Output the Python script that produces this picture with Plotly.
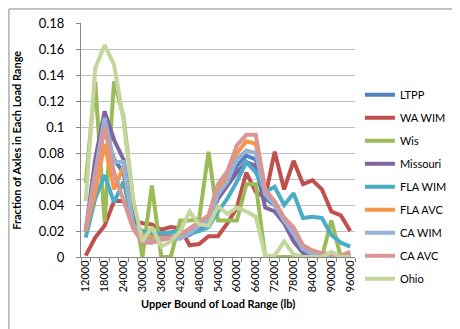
import plotly.graph_objects as go

# upper bound of each load range (lb)
load_bounds = list(range(12000, 96001, 3000))
tick_labels = list(range(12000, 96001, 6000))

ltpp = [0.020, 0.060, 0.100, 0.075, 0.065, 0.027, 0.015, 0.014, 0.015, 0.015,
        0.016, 0.019, 0.023, 0.028, 0.045, 0.056, 0.070, 0.078, 0.075, 0.045,
        0.040, 0.028, 0.018, 0.006, 0.003, 0.002, 0.001, 0.001, 0.002]
wa_wim = [0.001, 0.015, 0.024, 0.043, 0.043, 0.028, 0.026, 0.025, 0.021, 0.023,
          0.022, 0.009, 0.010, 0.016, 0.016, 0.026, 0.038, 0.065, 0.050, 0.046,
          0.081, 0.052, 0.074, 0.056, 0.059, 0.052, 0.035, 0.032, 0.020]
wis = [0.057, 0.135, 0.027, 0.135, 0.108, 0.045, 0.000, 0.055, 0.000, 0.000,
       0.028, 0.028, 0.029, 0.081, 0.028, 0.028, 0.028, 0.056, 0.056, 0.000,
       0.000, 0.000, 0.000, 0.000, 0.000, 0.000, 0.028, 0.000, 0.000]
missouri = [0.020, 0.075, 0.112, 0.090, 0.075, 0.030, 0.015, 0.016, 0.016, 0.016,
            0.015, 0.017, 0.022, 0.027, 0.045, 0.055, 0.065, 0.073, 0.070, 0.038,
            0.035, 0.026, 0.012, 0.003, 0.000, 0.000, 0.000, 0.000, 0.000]
fla_wim = [0.015, 0.045, 0.063, 0.042, 0.058, 0.025, 0.020, 0.018, 0.018, 0.019,
           0.020, 0.018, 0.020, 0.023, 0.035, 0.045, 0.058, 0.073, 0.065, 0.050,
           0.054, 0.040, 0.049, 0.030, 0.031, 0.030, 0.017, 0.011, 0.008]
fla_avc = [0.020, 0.050, 0.087, 0.052, 0.070, 0.025, 0.017, 0.015, 0.015, 0.015,
           0.016, 0.020, 0.025, 0.030, 0.052, 0.062, 0.080, 0.089, 0.087, 0.050,
           0.042, 0.030, 0.022, 0.008, 0.003, 0.002, 0.001, 0.001, 0.002]
ca_wim = [0.022, 0.065, 0.107, 0.073, 0.073, 0.025, 0.013, 0.012, 0.014, 0.014,
          0.014, 0.018, 0.024, 0.028, 0.048, 0.058, 0.075, 0.082, 0.080, 0.048,
          0.040, 0.028, 0.018, 0.006, 0.002, 0.001, 0.000, 0.000, 0.001]
ca_avc = [0.021, 0.062, 0.100, 0.065, 0.043, 0.022, 0.011, 0.011, 0.013, 0.015,
          0.017, 0.022, 0.027, 0.032, 0.056, 0.066, 0.086, 0.094, 0.094, 0.052,
          0.043, 0.030, 0.023, 0.009, 0.005, 0.003, 0.002, 0.001, 0.004]
ohio = [0.043, 0.145, 0.163, 0.148, 0.105, 0.045, 0.012, 0.023, 0.008, 0.012,
        0.020, 0.035, 0.025, 0.024, 0.039, 0.033, 0.038, 0.035, 0.031, 0.001,
        0.001, 0.012, 0.002, 0.000, 0.000, 0.000, 0.004, 0.000, 0.000]

series = [
    ("LTPP", ltpp, "#4F81BD"),
    ("WA WIM", wa_wim, "#C0504D"),
    ("Wis", wis, "#9BBB59"),
    ("Missouri", missouri, "#8064A2"),
    ("FLA WIM", fla_wim, "#4BACC6"),
    ("FLA AVC", fla_avc, "#F79646"),
    ("CA WIM", ca_wim, "#95B3D7"),
    ("CA AVC", ca_avc, "#D99694"),
    ("Ohio", ohio, "#C3D69B"),
]

fig = go.Figure()
for i, (name, vals, color) in enumerate(series):
    fig.add_trace(go.Scatter(x=load_bounds, y=vals, name=name, mode="lines",
                             legendgroup=str(i),
                             line=dict(color=color, width=4)))

font = "Lato, 'Open Sans', sans-serif"
fig.update_layout(
    width=460, height=329,
    margin=dict(l=73, r=113, t=15, b=80, autoexpand=False),
    paper_bgcolor="white", plot_bgcolor="white",
    font=dict(family=font, size=12, color="#000000"),
    showlegend=True,
    legend=dict(x=1.018, y=0.755, xanchor="left", yanchor="top",
                font=dict(size=11), tracegroupgap=4,
                bgcolor="rgba(0,0,0,0)"),
    xaxis=dict(
        range=[10500, 97500], automargin=False,
        tickvals=tick_labels, ticktext=[str(v) for v in tick_labels],
        tickangle=-90, ticks="", ticklen=0, showgrid=False,
        tickfont=dict(size=11), ticklabelstandoff=-2,
        showline=True, linecolor="#868686", linewidth=1,
        minor=dict(tickvals=[b - 1500 for b in load_bounds] + [97500],
                   ticks="outside", ticklen=4, tickcolor="#868686"),
    ),
    yaxis=dict(
        range=[0, 0.18], dtick=0.02, automargin=False,
        showgrid=True, gridcolor="#BFBFBF", gridwidth=1,
        showline=True, linecolor="#868686", linewidth=1,
        ticks="outside", ticklen=4, tickcolor="#868686",
        tickfont=dict(size=13), ticklabelstandoff=9,
        zeroline=False,
    ),
    annotations=[
        dict(text="<b>Upper Bound of Load Range (lb)</b>",
             xref="paper", yref="paper", x=0.5, y=-0.2,
             xanchor="center", yanchor="middle", showarrow=False,
             font=dict(size=11)),
        dict(text="<b>Fraction of Axles in Each Load Range</b>",
             xref="paper", yref="paper", x=-0.238, y=0.5, textangle=-90,
             xanchor="center", yanchor="middle", showarrow=False,
             font=dict(size=11)),
    ],
    shapes=[dict(type="rect", xref="paper", yref="paper",
                 x0=-0.263, x1=1.405, y0=-0.333, y1=1.06,
                 line=dict(color="#868686", width=1))],
)

fig.write_html("out.html")
